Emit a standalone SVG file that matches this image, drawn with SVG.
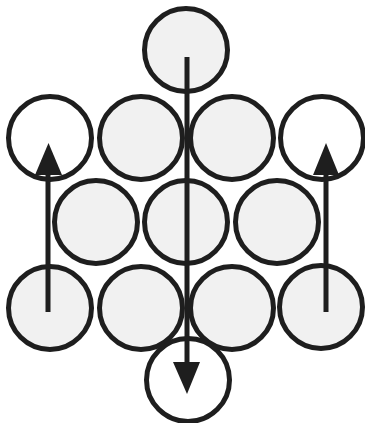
<svg xmlns="http://www.w3.org/2000/svg" width="365" height="423" viewBox="0 0 365 423">
<style>
.c{stroke:#1e1e1e;stroke-width:5;fill:#f1f1f1}
.w{fill:#ffffff}
.l{stroke:#1e1e1e;stroke-width:5;fill:none}
.h{fill:#1e1e1e}
</style>
<rect width="365" height="423" fill="#ffffff"/>
<g id="n-top"><circle class="c" cx="186" cy="50" r="41.5"/></g>
<g id="n-r2a"><circle class="c w" cx="50" cy="138" r="41.5"/></g>
<g id="n-r2b"><circle class="c" cx="141" cy="138" r="41.5"/></g>
<g id="n-r2c"><circle class="c" cx="232" cy="138" r="41.5"/></g>
<g id="n-r2d"><circle class="c w" cx="322" cy="138" r="41.5"/></g>
<g id="n-r3a"><circle class="c" cx="96" cy="222" r="41.5"/></g>
<g id="n-r3b"><circle class="c" cx="186" cy="222" r="41.5"/></g>
<g id="n-r3c"><circle class="c" cx="277" cy="222" r="41.5"/></g>
<g id="n-r4a"><circle class="c" cx="50" cy="308" r="41.5"/></g>
<g id="n-r4b"><circle class="c" cx="141" cy="308" r="41.5"/></g>
<g id="n-r4c"><circle class="c" cx="232" cy="308" r="41.5"/></g>
<g id="n-r4d"><circle class="c" cx="321" cy="307" r="41.5"/></g>
<g id="n-bottom"><circle class="c w" cx="188" cy="380" r="41.5"/></g>
<g id="connectors">
<line class="l" x1="187" y1="57" x2="187" y2="364"/>
<polygon class="h" points="173,362 200,362 187,394"/>
<line class="l" x1="48" y1="312" x2="48" y2="173"/>
<polygon class="h" points="35,175 62,175 48.5,143"/>
<line class="l" x1="326" y1="312" x2="326" y2="173"/>
<polygon class="h" points="313,175 339,175 326,143"/>
</g>
</svg>
